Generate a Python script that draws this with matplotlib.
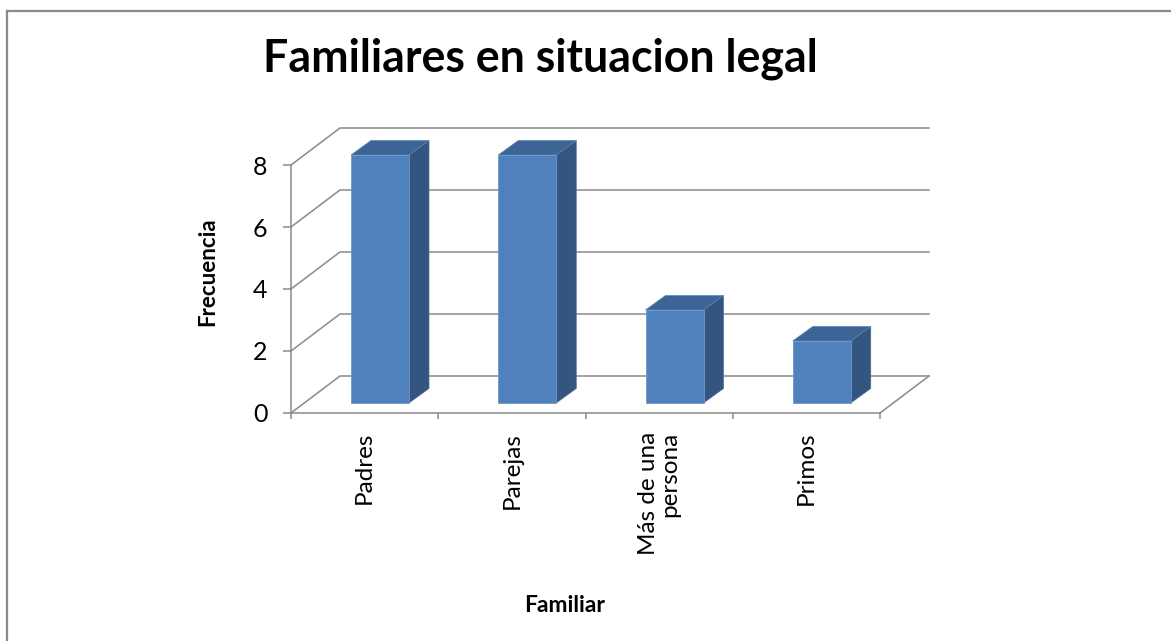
import matplotlib
matplotlib.use('Agg')
import matplotlib.pyplot as plt
from matplotlib.patches import Polygon
from matplotlib.lines import Line2D

# ---------------- data ----------------
categories = ['Padres', 'Parejas', 'Más de una\npersona', 'Primos']
values = [8, 8, 3, 2]
y_ticks = [0, 2, 4, 6, 8]
title_text = 'Familiares en situacion legal'
x_label = 'Familiar'
y_label = 'Frecuencia'

# ---------------- styling ----------------
W, H = 1171, 641
FONT = 'Lato'
GRID = '#8a8a8a'
FRONT = '#4F81BD'
SIDE = '#34557F'
TOP = '#3C6596'

fig = plt.figure(figsize=(W / 100, H / 100), dpi=100)
fig.patch.set_facecolor('white')

# chart border (top and left visible)
fig.add_artist(Line2D([6.5 / W, 6.5 / W], [0, 1 - 10.5 / H], transform=fig.transFigure,
                      color=GRID, lw=1.6))
fig.add_artist(Line2D([6.5 / W, 1], [1 - 10.5 / H, 1 - 10.5 / H], transform=fig.transFigure,
                      color=GRID, lw=1.6))

# axes: front plane of the 3-D chart
ax = fig.add_axes([291 / W, (H - 413) / H, 589 / W, 248 / H])
n = len(categories)
ax.set_xlim(-0.5, n - 0.5)
ax.set_ylim(0, 8)
ax.set_facecolor('none')

px_x = (589 / n)          # pixels per category
px_y = 248 / 8            # pixels per unit value
DX = 49 / px_x            # wall depth
DY = 37 / px_y

# back wall gridlines + left wall diagonals
for v in y_ticks:
    ax.plot([-0.5, -0.5 + DX, n - 0.5 + DX], [v, v + DY, v + DY],
            color=GRID, lw=1.1, clip_on=False, zorder=1, solid_joinstyle='miter')
# floor right edge
ax.plot([n - 0.5, n - 0.5 + DX], [0, DY], color=GRID, lw=1.1, clip_on=False, zorder=1)

# bars
off_x = 60 / px_x         # front face left offset inside category
bw = 58 / px_x            # bar width
b0 = 10 / px_y            # front face lift
ddx = 20 / px_x           # bar depth
ddy = 14.5 / px_y
xs = [i - 0.5 + off_x for i in range(n)]
ax.bar(xs, values, width=bw, bottom=b0, align='edge', color=FRONT,
       edgecolor='#6f97c9', linewidth=0.6, zorder=5, clip_on=False)
for xl, v in zip(xs, values):
    xr = xl + bw
    top = b0 + v
    ax.add_patch(Polygon([(xr, b0), (xr + ddx, b0 + ddy), (xr + ddx, top + ddy), (xr, top)],
                         closed=True, facecolor=SIDE, edgecolor='#4a6f9c', lw=0.5,
                         zorder=4, clip_on=False))
    ax.add_patch(Polygon([(xl, top), (xl + ddx, top + ddy), (xr + ddx, top + ddy), (xr, top)],
                         closed=True, facecolor=TOP, edgecolor='#5a82b4', lw=0.5,
                         zorder=4, clip_on=False))

# spines
for s in ['top', 'right']:
    ax.spines[s].set_visible(False)
for s in ['left', 'bottom']:
    ax.spines[s].set_color(GRID)
    ax.spines[s].set_linewidth(1.1)
    ax.spines[s].set_zorder(2)

# y ticks
ax.set_yticks(y_ticks)
ax.set_yticklabels([str(t) for t in y_ticks], fontsize=18, family=FONT)
ax.tick_params(axis='y', length=5.8, width=1.1, color=GRID, pad=11)

# x ticks: labels at centres, marks at boundaries
ax.set_xticks(range(n))
ax.set_xticklabels(categories, rotation=90, fontsize=17.5, family=FONT,
                   va='top', ha='center', multialignment='right', linespacing=1.0)
ax.set_xticks([i - 0.5 for i in range(n + 1)], minor=True)
ax.tick_params(axis='x', which='major', length=0, pad=13.5)
ax.tick_params(axis='x', which='minor', length=4.3, width=1.1, color=GRID)

# axis titles
fig.text(208 / W, 1 - 272 / H, y_label, rotation=90, ha='center', va='center',
         fontsize=16, fontweight='bold', family=FONT)
fig.text(565 / W, 1 - 605 / H, x_label, ha='center', va='center',
         fontsize=16.5, fontweight='bold', family=FONT)

# title, fit to measured width
t = fig.text(540 / W, 1 - 72 / H, title_text, ha='center', va='baseline',
             fontsize=30, fontweight='bold', family=FONT)
r = fig.canvas.get_renderer()
w = t.get_window_extent(r).width
t.set_fontsize(30 * 554 / w)

fig.savefig('out.png', dpi=100, facecolor='white')
